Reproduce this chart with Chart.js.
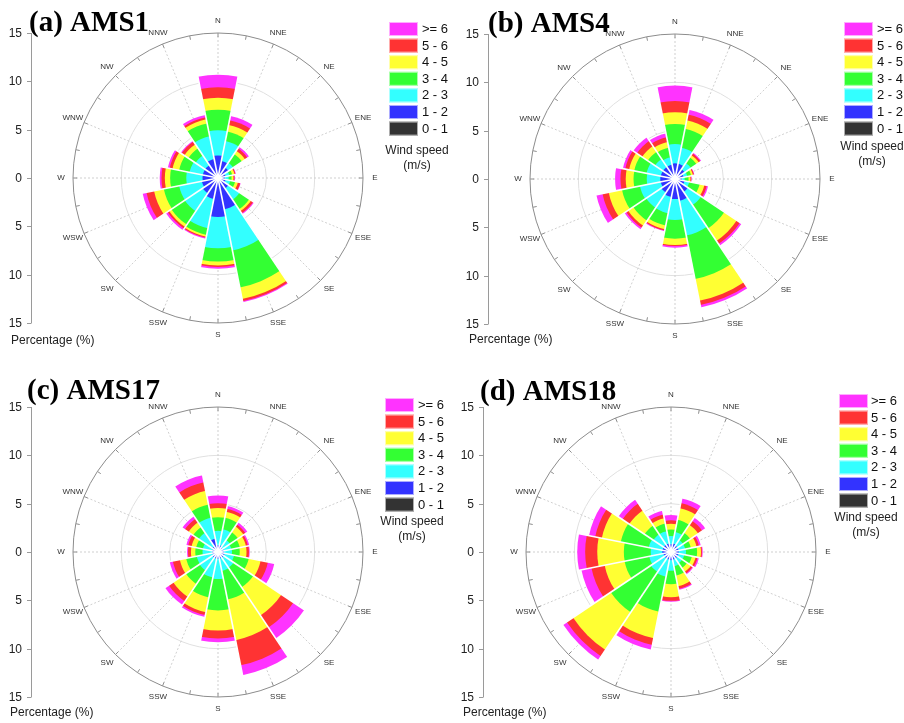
<!DOCTYPE html>
<html>
<head>
<meta charset="utf-8">
<title>Wind roses AMS1 / AMS4 / AMS17 / AMS18</title>
<script src="https://cdn.jsdelivr.net/npm/chart.js@4.4.0/dist/chart.umd.min.js"></script>
<style>
  html, body { margin: 0; padding: 0; background: #fff; }
  #wrap { position: relative; width: 904px; height: 723px; }
  canvas { position: absolute; }
</style>
</head>
<body>
<div id="wrap">
  <canvas id="roseA" width="452" height="361" style="left:0;top:0"></canvas>
  <canvas id="roseB" width="452" height="361" style="left:452px;top:0"></canvas>
  <canvas id="roseC" width="452" height="362" style="left:0;top:361px"></canvas>
  <canvas id="roseD" width="452" height="362" style="left:452px;top:361px"></canvas>
</div>
<script>
// Wind rose data
const directions = ['N', 'NNE', 'NE', 'ENE', 'E', 'ESE', 'SE', 'SSE', 'S', 'SSW', 'SW', 'WSW', 'W', 'WNW', 'NW', 'NNW'];
const speedBins = ['0 - 1', '1 - 2', '2 - 3', '3 - 4', '4 - 5', '5 - 6', '>= 6'];
const binColors = ['#333333', '#3333ff', '#33ffff', '#33ff33', '#ffff33', '#ff3333', '#ff33ff'];
const axisTicks = [15, 10, 5, 0, 5, 10, 15];

// frequency (%) per speed bin (rows: 0-1 ... >=6), per direction (N ... NNW)
const ams1 = [
    [0.35, 0.35, 0.35, 0.35, 0.35, 0.35, 0.35, 0.35, 0.35, 0.35, 0.35, 0.35, 0.35, 0.35, 0.35, 0.35],
    [1.99, 1.45, 0.95, 0.45, 0.35, 0.45, 0.95, 2.95, 3.68, 1.85, 1.55, 1.35, 1.25, 1.25, 1.25, 1.65],
    [2.59, 2.10, 0.60, 0.40, 0.40, 0.50, 1.40, 4.35, 3.24, 3.10, 2.25, 2.40, 1.68, 1.40, 1.20, 2.40],
    [2.14, 1.00, 1.10, 0.30, 0.30, 0.50, 1.20, 3.90, 1.38, 0.70, 1.65, 1.62, 1.67, 1.10, 0.90, 1.36],
    [1.24, 0.70, 0.40, 0.25, 0.20, 0.30, 0.25, 1.22, 0.40, 0.20, 0.30, 1.03, 0.55, 0.70, 0.50, 0.44],
    [1.07, 0.50, 0.30, 0.10, 0.10, 0.25, 0.25, 0.23, 0.15, 0.10, 0.20, 0.80, 0.35, 0.30, 0.35, 0.20],
    [1.31, 0.45, 0.20, 0.05, 0.05, 0.05, 0.10, 0.10, 0.20, 0.10, 0.20, 0.41, 0.18, 0.20, 0.10, 0.25]
];
const ams4 = [
    [0.35, 0.35, 0.35, 0.35, 0.35, 0.35, 0.35, 0.35, 0.35, 0.35, 0.35, 0.35, 0.35, 0.35, 0.35, 0.35],
    [1.27, 1.25, 0.85, 0.55, 0.35, 0.65, 1.25, 1.95, 1.72, 1.55, 1.35, 1.15, 1.17, 1.15, 1.15, 1.15],
    [2.00, 1.70, 0.80, 0.40, 0.30, 0.50, 1.65, 3.65, 2.17, 1.70, 1.90, 2.20, 1.40, 1.50, 1.00, 0.80],
    [2.07, 2.00, 0.70, 0.40, 0.40, 1.10, 2.90, 4.60, 1.93, 1.30, 1.60, 1.90, 1.37, 1.30, 0.90, 1.00],
    [1.21, 0.90, 0.30, 0.20, 0.20, 0.50, 1.55, 2.30, 0.66, 0.40, 0.65, 1.40, 0.81, 0.55, 0.70, 0.60],
    [1.17, 0.60, 0.20, 0.10, 0.08, 0.25, 0.40, 0.45, 0.10, 0.12, 0.25, 0.65, 0.54, 0.40, 0.65, 0.50],
    [1.59, 0.50, 0.10, 0.05, 0.04, 0.15, 0.20, 0.25, 0.17, 0.08, 0.20, 0.65, 0.56, 0.25, 0.45, 0.40]
];
const ams17 = [
    [0.25, 0.25, 0.25, 0.25, 0.25, 0.25, 0.25, 0.25, 0.25, 0.25, 0.25, 0.25, 0.25, 0.25, 0.25, 0.25],
    [0.45, 0.45, 0.35, 0.35, 0.35, 0.45, 0.45, 0.45, 0.45, 0.45, 0.45, 0.35, 0.35, 0.35, 0.45, 1.15],
    [1.50, 1.70, 0.90, 0.80, 0.85, 1.00, 1.25, 1.30, 2.10, 2.00, 1.60, 1.64, 1.00, 1.00, 1.70, 2.20],
    [1.40, 1.20, 1.00, 0.90, 0.80, 1.55, 2.45, 3.00, 3.25, 2.10, 1.70, 1.12, 0.75, 0.70, 0.70, 1.40],
    [0.95, 0.65, 0.70, 0.65, 0.70, 1.25, 3.50, 4.30, 2.07, 1.55, 1.60, 0.67, 0.45, 0.50, 0.60, 1.45],
    [0.50, 0.30, 0.25, 0.20, 0.25, 0.77, 1.50, 2.65, 0.83, 0.30, 0.55, 0.74, 0.30, 0.35, 0.45, 0.90],
    [0.80, 0.30, 0.25, 0.15, 0.08, 0.68, 1.35, 1.05, 0.38, 0.20, 0.45, 0.33, 0.10, 0.20, 0.30, 0.75]
];
const ams18 = [
    [0.25, 0.25, 0.25, 0.25, 0.25, 0.25, 0.25, 0.25, 0.25, 0.25, 0.25, 0.25, 0.25, 0.25, 0.25, 0.25],
    [0.55, 0.65, 0.55, 0.55, 0.55, 0.55, 0.55, 0.55, 0.60, 0.55, 0.55, 0.55, 0.65, 0.65, 0.65, 0.65],
    [0.86, 1.20, 0.70, 0.70, 0.75, 0.60, 0.60, 0.70, 1.10, 1.80, 1.70, 1.50, 1.20, 1.45, 1.30, 1.30],
    [0.68, 1.30, 0.90, 0.60, 1.15, 0.80, 0.60, 1.00, 1.38, 3.70, 5.00, 2.60, 2.78, 2.95, 1.10, 0.80],
    [0.59, 1.22, 1.00, 0.60, 0.40, 0.40, 0.50, 1.10, 1.34, 2.80, 4.70, 2.10, 2.75, 2.00, 1.90, 0.55],
    [0.35, 0.54, 0.50, 0.25, 0.10, 0.20, 0.20, 0.30, 0.38, 0.70, 0.80, 1.40, 1.25, 0.70, 0.85, 0.40],
    [0.55, 0.49, 0.40, 0.20, 0.08, 0.15, 0.10, 0.10, 0.10, 0.50, 0.45, 1.05, 0.82, 0.65, 0.50, 0.40]
];

// panel layout (pixels inside each canvas)
const panels = [
    { id: 'roseA', title: '(a) AMS1', freq: ams1, h: 361, cx: 218, cy: 178, axisX: 31, titleX: 29, titleY: 31,
      legX: 389, legY: 22, labX: 422, windX: 417, windY: 151, pctX: 11, pctY: 341 },
    { id: 'roseB', title: '(b) AMS4', freq: ams4, h: 361, cx: 223, cy: 179, axisX: 36, titleX: 36, titleY: 32,
      legX: 392, legY: 22, labX: 425, windX: 420, windY: 147, pctX: 17, pctY: 340 },
    { id: 'roseC', title: '(c) AMS17', freq: ams17, h: 362, cx: 218, cy: 191, axisX: 31, titleX: 27, titleY: 38,
      legX: 385, legY: 37, labX: 418, windX: 412, windY: 161, pctX: 10, pctY: 352 },
    { id: 'roseD', title: '(d) AMS18', freq: ams18, h: 362, cx: 219, cy: 191, axisX: 31, titleX: 28, titleY: 39,
      legX: 387, legY: 33, labX: 419, windX: 414, windY: 157, pctX: 11, pctY: 352 }
];

const RADIUS = 145;
const SANS = "'Liberation Sans', Arial, sans-serif";

function cumulative(rows) {
    const out = [];
    let run = rows[0].map(() => 0);
    rows.forEach(row => {
        run = run.map((v, i) => v + row[i]);
        out.push(run.map(v => +v.toFixed(2)));
    });
    return out;
}

const roseDecor = {
    id: 'roseDecor',
    beforeDatasetsDraw(chart) {
        const ctx = chart.ctx;
        const r = chart.scales.r;
        const R = r.getDistanceFromCenterForValue(r.max);
        ctx.save();
        // dashed direction spokes
        ctx.strokeStyle = '#d0d0d0';
        ctx.lineWidth = 1;
        ctx.setLineDash([2, 2]);
        directions.forEach((d, i) => {
            const p = r.getPointPosition(i + 0.5, R);
            ctx.beginPath();
            ctx.moveTo(r.xCenter, r.yCenter);
            ctx.lineTo(p.x, p.y);
            ctx.stroke();
        });
        ctx.setLineDash([]);
        // small ticks on outer circle
        ctx.strokeStyle = '#8c8c8c';
        for (let k = 0; k < directions.length * 2; k++) {
            const a = r.getPointPosition(k / 2 + 0.5, R);
            const b = r.getPointPosition(k / 2 + 0.5, R - 4);
            ctx.beginPath();
            ctx.moveTo(a.x, a.y);
            ctx.lineTo(b.x, b.y);
            ctx.stroke();
        }
        ctx.restore();
    },
    afterDatasetsDraw(chart) {
        const ctx = chart.ctx;
        const r = chart.scales.r;
        const sets = chart.data.datasets;
        const totals = sets[sets.length - 1].data;
        ctx.save();
        // white gaps between petals
        ctx.strokeStyle = '#ffffff';
        ctx.lineWidth = 1.6;
        totals.forEach((v, i) => {
            const prev = totals[(i + totals.length - 1) % totals.length];
            const d = r.getDistanceFromCenterForValue(Math.max(v, prev)) + 1;
            const p = r.getPointPosition(i, d);
            ctx.beginPath();
            ctx.moveTo(r.xCenter, r.yCenter);
            ctx.lineTo(p.x, p.y);
            ctx.stroke();
        });
        ctx.restore();
    },
    afterDraw(chart, args, opts) {
        const ctx = chart.ctx;
        const r = chart.scales.r;
        const R = r.getDistanceFromCenterForValue(r.max);
        const sets = chart.data.datasets;
        ctx.save();

        // direction labels
        ctx.fillStyle = '#333';
        ctx.font = '8px ' + SANS;
        ctx.textAlign = 'center';
        ctx.textBaseline = 'middle';
        directions.forEach((d, i) => {
            const p = r.getPointPosition(i + 0.5, R + 12);
            ctx.fillText(d, p.x, p.y);
        });

        // left percentage axis
        const top = r.yCenter - R;
        const bottom = r.yCenter + R;
        ctx.strokeStyle = '#9a9a9a';
        ctx.lineWidth = 1;
        ctx.beginPath();
        ctx.moveTo(opts.axisX + 0.5, top);
        ctx.lineTo(opts.axisX + 0.5, bottom);
        ctx.stroke();
        ctx.font = '12px ' + SANS;
        ctx.fillStyle = '#222';
        ctx.textAlign = 'right';
        axisTicks.forEach((t, k) => {
            const sign = k < axisTicks.length / 2 - 0.5 ? -1 : 1;
            const y = Math.round(r.yCenter + sign * r.getDistanceFromCenterForValue(t)) + 0.5;
            ctx.beginPath();
            ctx.moveTo(opts.axisX - 4, y);
            ctx.lineTo(opts.axisX + 0.5, y);
            ctx.stroke();
            ctx.fillText(String(t), opts.axisX - 9, y);
        });
        ctx.textAlign = 'left';
        ctx.fillText('Percentage (%)', opts.pctX, opts.pctY);

        // legend
        ctx.font = '13px ' + SANS;
        ctx.fillStyle = '#111';
        for (let k = sets.length - 1, row = 0; k >= 0; k--, row++) {
            const y = opts.legY + row * 16.6;
            ctx.fillStyle = sets[k].backgroundColor;
            ctx.fillRect(opts.legX, y, 29, 14);
            ctx.strokeStyle = 'rgba(255,255,255,0.6)';
            ctx.strokeRect(opts.legX + 0.5, y + 0.5, 28, 13);
            ctx.fillStyle = '#111';
            ctx.fillText(sets[k].label, opts.labX, y + 7.5);
        }
        ctx.font = '12px ' + SANS;
        ctx.textAlign = 'center';
        ctx.fillStyle = '#222';
        ctx.fillText('Wind speed', opts.windX, opts.windY);
        ctx.fillText('(m/s)', opts.windX, opts.windY + 15);

        // panel title
        ctx.font = "bold 29px 'Liberation Serif', 'Times New Roman', serif";
        ctx.fillStyle = '#000';
        ctx.textAlign = 'left';
        ctx.textBaseline = 'alphabetic';
        ctx.fillText(opts.title, opts.titleX, opts.titleY);
        ctx.restore();
    }
};

panels.forEach(p => {
    const cum = cumulative(p.freq);
    const datasets = speedBins.map((bin, k) => ({
        label: bin,
        data: cum[k],
        backgroundColor: binColors[k],
        borderWidth: 0
    }));
    new Chart(document.getElementById(p.id), {
        type: 'polarArea',
        data: { labels: directions, datasets: datasets },
        options: {
            responsive: false,
            animation: false,
            layout: {
                padding: {
                    left: p.cx - RADIUS,
                    right: 452 - p.cx - RADIUS,
                    top: p.cy - RADIUS,
                    bottom: p.h - p.cy - RADIUS
                }
            },
            scales: {
                r: {
                    min: 0,
                    max: 15,
                    startAngle: -11.25,
                    ticks: { display: false, stepSize: 5 },
                    grid: {
                        circular: true,
                        lineWidth: 1,
                        color: ctx => ctx.tick && ctx.tick.value === 15 ? '#8c8c8c' : '#e0e0e0'
                    },
                    angleLines: { display: false },
                    pointLabels: { display: false }
                }
            },
            plugins: {
                legend: { display: false },
                tooltip: { enabled: false },
                roseDecor: {
                    title: p.title, axisX: p.axisX, titleX: p.titleX, titleY: p.titleY,
                    legX: p.legX, legY: p.legY, labX: p.labX, windX: p.windX, windY: p.windY,
                    pctX: p.pctX, pctY: p.pctY
                }
            }
        },
        plugins: [roseDecor]
    });
});
</script>
</body>
</html>
